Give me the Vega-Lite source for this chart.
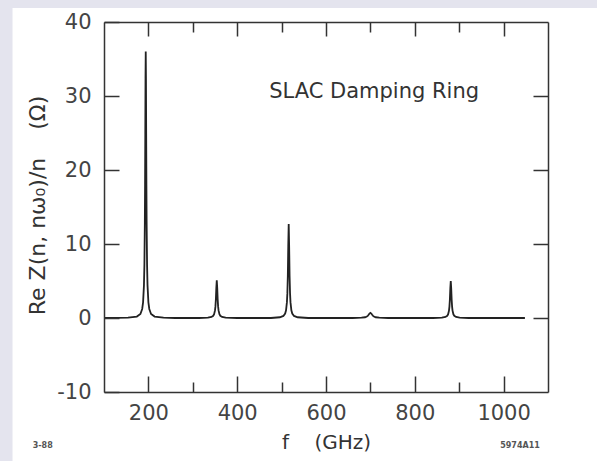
{
  "$schema": "https://vega.github.io/schema/vega-lite/v6.json",
  "width": 444,
  "height": 370,
  "autosize": {"type": "none"},
  "padding": {"left": 104, "top": 22, "right": 49, "bottom": 69},
  "background": "#e4e4ee",
  "config": {
    "view": {"stroke": null},
    "axis": {
      "grid": false,
      "domainColor": "#333",
      "domainWidth": 1.5,
      "tickColor": "#333",
      "tickWidth": 1.5,
      "labelFont": "DejaVu Sans",
      "labelFontSize": 21,
      "labelColor": "#444",
      "titleFont": "DejaVu Sans",
      "titleFontSize": 20,
      "titleFontWeight": "normal",
      "titleColor": "#333"
    }
  },
  "datasets": {
    "curve": [
      {"f": 100, "Z": 0}, {"f": 154, "Z": 0.05}, {"f": 174, "Z": 0.2}, {"f": 182, "Z": 0.55},
      {"f": 186, "Z": 1.22}, {"f": 188, "Z": 2.12}, {"f": 190, "Z": 4.44}, {"f": 191, "Z": 7.2},
      {"f": 192, "Z": 12.96}, {"f": 192.5, "Z": 18}, {"f": 193, "Z": 24.9}, {"f": 193.5, "Z": 32.4},
      {"f": 194, "Z": 36}, {"f": 194.5, "Z": 32.4}, {"f": 195, "Z": 24.9}, {"f": 195.5, "Z": 18},
      {"f": 196, "Z": 12.96}, {"f": 197, "Z": 7.2}, {"f": 198, "Z": 4.44}, {"f": 200, "Z": 2.12},
      {"f": 202, "Z": 1.22}, {"f": 206, "Z": 0.55}, {"f": 214, "Z": 0.2}, {"f": 234, "Z": 0.05},
      {"f": 260, "Z": 0}, {"f": 314, "Z": 0}, {"f": 334, "Z": 0.05}, {"f": 342, "Z": 0.14},
      {"f": 346, "Z": 0.3}, {"f": 348, "Z": 0.51}, {"f": 350, "Z": 1.02}, {"f": 351, "Z": 1.57},
      {"f": 352, "Z": 2.55}, {"f": 353, "Z": 4.08}, {"f": 354, "Z": 5.1}, {"f": 355, "Z": 4.08},
      {"f": 356, "Z": 2.55}, {"f": 357, "Z": 1.57}, {"f": 358, "Z": 1.02}, {"f": 360, "Z": 0.51},
      {"f": 362, "Z": 0.3}, {"f": 366, "Z": 0.14}, {"f": 374, "Z": 0.05}, {"f": 400, "Z": 0},
      {"f": 476, "Z": 0}, {"f": 496, "Z": 0.1}, {"f": 504, "Z": 0.28}, {"f": 508, "Z": 0.61},
      {"f": 510, "Z": 1.05}, {"f": 512, "Z": 2.14}, {"f": 513, "Z": 3.36}, {"f": 514, "Z": 5.68},
      {"f": 515, "Z": 9.7}, {"f": 516, "Z": 12.7}, {"f": 517, "Z": 9.7}, {"f": 518, "Z": 5.68},
      {"f": 519, "Z": 3.36}, {"f": 520, "Z": 2.14}, {"f": 522, "Z": 1.05}, {"f": 524, "Z": 0.61},
      {"f": 528, "Z": 0.28}, {"f": 536, "Z": 0.1}, {"f": 560, "Z": 0}, {"f": 660, "Z": 0},
      {"f": 680, "Z": 0.04}, {"f": 688, "Z": 0.1}, {"f": 692, "Z": 0.2}, {"f": 694, "Z": 0.29},
      {"f": 696, "Z": 0.43}, {"f": 698, "Z": 0.6}, {"f": 700, "Z": 0.7}, {"f": 702, "Z": 0.6},
      {"f": 704, "Z": 0.43}, {"f": 706, "Z": 0.29}, {"f": 708, "Z": 0.2}, {"f": 712, "Z": 0.1},
      {"f": 720, "Z": 0.04}, {"f": 740, "Z": 0}, {"f": 841, "Z": 0}, {"f": 861, "Z": 0.05},
      {"f": 869, "Z": 0.14}, {"f": 873, "Z": 0.29}, {"f": 875, "Z": 0.5}, {"f": 877, "Z": 1.0},
      {"f": 878, "Z": 1.54}, {"f": 879, "Z": 2.5}, {"f": 880, "Z": 4.0}, {"f": 881, "Z": 5.0},
      {"f": 882, "Z": 4.0}, {"f": 883, "Z": 2.5}, {"f": 884, "Z": 1.54}, {"f": 885, "Z": 1.0},
      {"f": 887, "Z": 0.5}, {"f": 889, "Z": 0.29}, {"f": 893, "Z": 0.14}, {"f": 901, "Z": 0.05},
      {"f": 921, "Z": 0}, {"f": 1048, "Z": 0}
    ],
    "notes": [
      {"label": "3-88", "f": -38, "Z": -17.3},
      {"label": "5974A11", "f": 1037, "Z": -17.3}
    ]
  },
  "layer": [
    {
      "data": {"values": [{}]},
      "mark": {"type": "rect", "fill": "white"},
      "encoding": {
        "x": {"datum": -106, "type": "quantitative", "scale": {"domain": [100, 1100], "nice": false, "zero": false}, "axis": null},
        "x2": {"datum": 1400},
        "y": {"datum": 41.9, "type": "quantitative", "scale": {"domain": [-10, 40], "nice": false, "zero": false}, "axis": null},
        "y2": {"datum": -40}
      }
    },
    {
      "data": {"name": "curve"},
      "mark": {"type": "line", "color": "#222", "strokeWidth": 1.8},
      "encoding": {
        "x": {
          "field": "f", "type": "quantitative",
          "scale": {"domain": [100, 1100], "nice": false, "zero": false},
          "axis": {
            "orient": "bottom",
            "zindex": 2,
            "values": [200, 300, 400, 500, 600, 700, 800, 900, 1000],
            "tickSize": {"condition": {"test": "datum.value % 200 === 0", "value": -16}, "value": -10},
            "labelExpr": "datum.value % 200 === 0 ? '' + datum.value : ''",
            "labelPadding": 26,
            "labelFlush": false,
            "labelOverlap": false,
            "title": "f\u00a0\u00a0\u00a0\u00a0(GHz)",
            "titleY": 56,
            "titleBaseline": "alphabetic"
          }
        },
        "y": {
          "field": "Z", "type": "quantitative",
          "scale": {"domain": [-10, 40], "nice": false, "zero": false},
          "axis": {
            "orient": "left",
            "zindex": 2,
            "values": [-10, 0, 10, 20, 30, 40],
            "tickSize": -15,
            "labelExpr": "'' + datum.value",
            "labelPadding": 28,
            "labelFlush": false,
            "labelOverlap": false,
            "title": "Re Z(n, nω₀)/n\u00a0\u00a0\u00a0\u00a0(Ω)",
            "titleFontSize": 22,
            "titleX": -60,
            "titleY": 183,
            "titleAngle": 270,
            "titleAlign": "center",
            "titleBaseline": "alphabetic"
          }
        }
      }
    },
    {
      "data": {"values": [{"label": "SLAC Damping Ring", "f": 472, "Z": 30.6}]},
      "mark": {"type": "text", "align": "left", "baseline": "middle", "font": "DejaVu Sans", "fontSize": 21, "color": "#333"},
      "encoding": {
        "x": {
          "field": "f", "type": "quantitative",
          "scale": {"domain": [100, 1100], "nice": false, "zero": false},
          "axis": {
            "orient": "top",
            "zindex": 2,
            "values": [200, 300, 400, 500, 600, 700, 800, 900, 1000],
            "tickSize": {"condition": {"test": "datum.value % 200 === 0", "value": -14}, "value": -10},
            "labels": false,
            "title": null
          }
        },
        "y": {
          "field": "Z", "type": "quantitative",
          "scale": {"domain": [-10, 40], "nice": false, "zero": false},
          "axis": {
            "orient": "right",
            "zindex": 2,
            "values": [0, 10, 20, 30],
            "tickSize": -15,
            "labels": false,
            "title": null
          }
        },
        "text": {"field": "label"}
      }
    },
    {
      "data": {"name": "notes"},
      "mark": {"type": "text", "align": "center", "baseline": "middle", "font": "DejaVu Sans", "fontSize": 8, "fontWeight": "bold", "color": "#555", "letterSpacing": 1.5},
      "encoding": {
        "x": {"field": "f", "type": "quantitative", "scale": {"domain": [100, 1100], "nice": false, "zero": false}, "axis": null},
        "y": {"field": "Z", "type": "quantitative", "scale": {"domain": [-10, 40], "nice": false, "zero": false}, "axis": null},
        "text": {"field": "label"}
      }
    }
  ],
  "resolve": {"axis": {"x": "independent", "y": "independent"}}
}
